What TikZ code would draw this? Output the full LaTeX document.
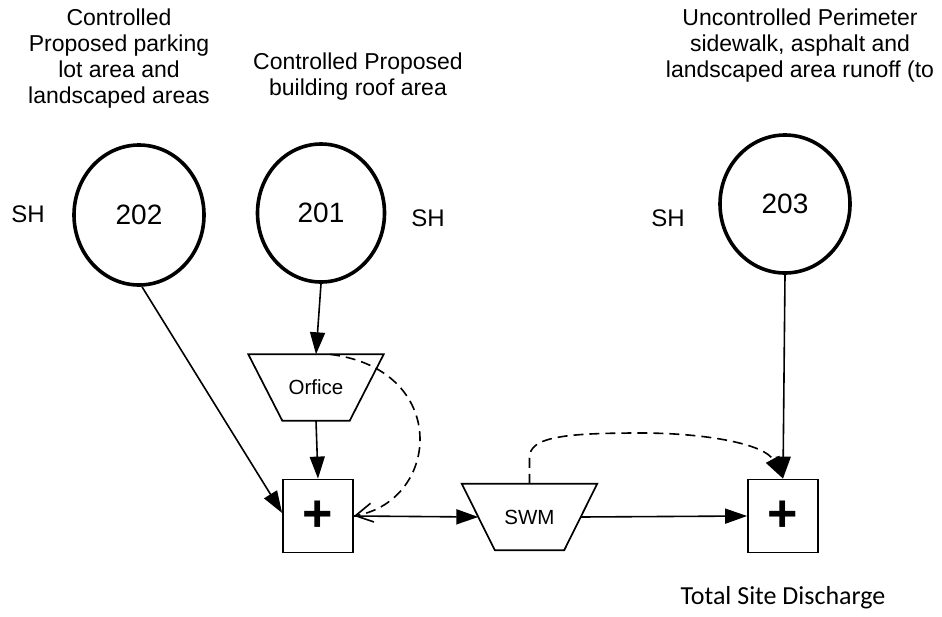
\documentclass[tikz,border=0pt]{standalone}
\usepackage{fontspec}
\setmainfont{Liberation Sans}
\newfontfamily\carlito{Carlito}
\usetikzlibrary{arrows.meta,shapes.geometric,calc}
\begin{document}
\begin{tikzpicture}[x=1pt,y=-1pt,
  circ/.style={ellipse, draw, line width=3.6pt, inner sep=0pt, font=\fontsize{28}{30}\selectfont},
  box/.style={draw, line width=1.8pt, minimum width=70pt, minimum height=73pt, inner sep=0pt, font=\bfseries\fontsize{52}{52}\selectfont},
  trap/.style={minimum width=135pt, minimum height=66pt, inner sep=0pt, font=\fontsize{20.5}{22}\selectfont},
  trapline/.style={line width=1.7pt},
  lbl/.style={align=center, font=\fontsize{23}{26}\selectfont, inner sep=0pt},
  sh/.style={font=\fontsize{24}{26}\selectfont, inner sep=0pt},
  arr/.style={line width=1.6pt, -{Triangle[length=22pt,width=15pt]}},
  barb/.style={line width=1.6pt, -{Straight Barb[length=17pt,width=19pt,line width=1.6pt]}},
  dsh/.style={dash pattern=on 10pt off 6pt},
]
\useasboundingbox (0,0) rectangle (942,616);

% top labels
\node[lbl] (t202) at (119,59) {Controlled\\Proposed parking\\lot area and\\landscaped areas};
\node[lbl] (t201) at (358,77) {Controlled Proposed\\building roof area};
\node[lbl] (t203) at (800,46) {Uncontrolled Perimeter\\sidewalk, asphalt and\\landscaped area runoff (to};

% circles
\node[circ, minimum width=130pt, minimum height=140pt] (c202) at (139,215) {202};
\node[circ, minimum width=127pt, minimum height=138pt] (c201) at (321,213) {201};
\node[circ, minimum width=130pt, minimum height=138pt] (c203) at (785,204) {203};

% SH labels
\node[sh] (sh202) at (28,214) {SH};
\node[sh] (sh201) at (428,218) {SH};
\node[sh] (sh203) at (668,218) {SH};

% trapezoids
\node[trap] (orf) at (316,387.5) {Orfice};
\draw[trapline] (orf.north west) -- (orf.north east) -- ([xshift=-34pt]orf.south east) -- ([xshift=34pt]orf.south west) -- cycle;
\node[trap] (swm) at (529.5,517) {SWM};
\draw[trapline] (swm.north west) -- (swm.north east) -- ([xshift=-33pt]swm.south east) -- ([xshift=33pt]swm.south west) -- cycle;
\coordinate (swmW) at ($(swm.west)+(16.5,0)$);
\coordinate (swmE) at ($(swm.east)+(-16.5,0)$);

% junction boxes
\node[box] (box1) at (318,516) {\raisebox{-2pt}{+}};
\node[box] (box2) at (783,516) {\raisebox{-2pt}{+}};

% bottom label
\node[inner sep=0pt, font=\carlito\fontsize{26}{28}\selectfont] (tot) at (783,598) {Total Site Discharge};

% connectors
\draw[arr] ([xshift=3pt]c202.south) -- ([yshift=3pt]box1.west);
\draw[arr] (c201.south) -- (orf.north);
\draw[arr] (orf.south) -- (box1.north);
\draw[arr] (box1.east) -- (swmW);
\draw[arr] (swmE) -- (box2.west);
\draw[arr] (c203.south) -- (box2.north);
\draw[barb, dsh] ([xshift=14pt]orf.north) .. controls +(120,15) and +(87,-16) .. (box1.east);
\draw[arr, dsh] (swm.north) -- ++(0,-26) .. controls +(0,-20) and (560,433) .. (640,433) .. controls (710,433) and (765,445) .. (box2.north);
\end{tikzpicture}
\end{document}
